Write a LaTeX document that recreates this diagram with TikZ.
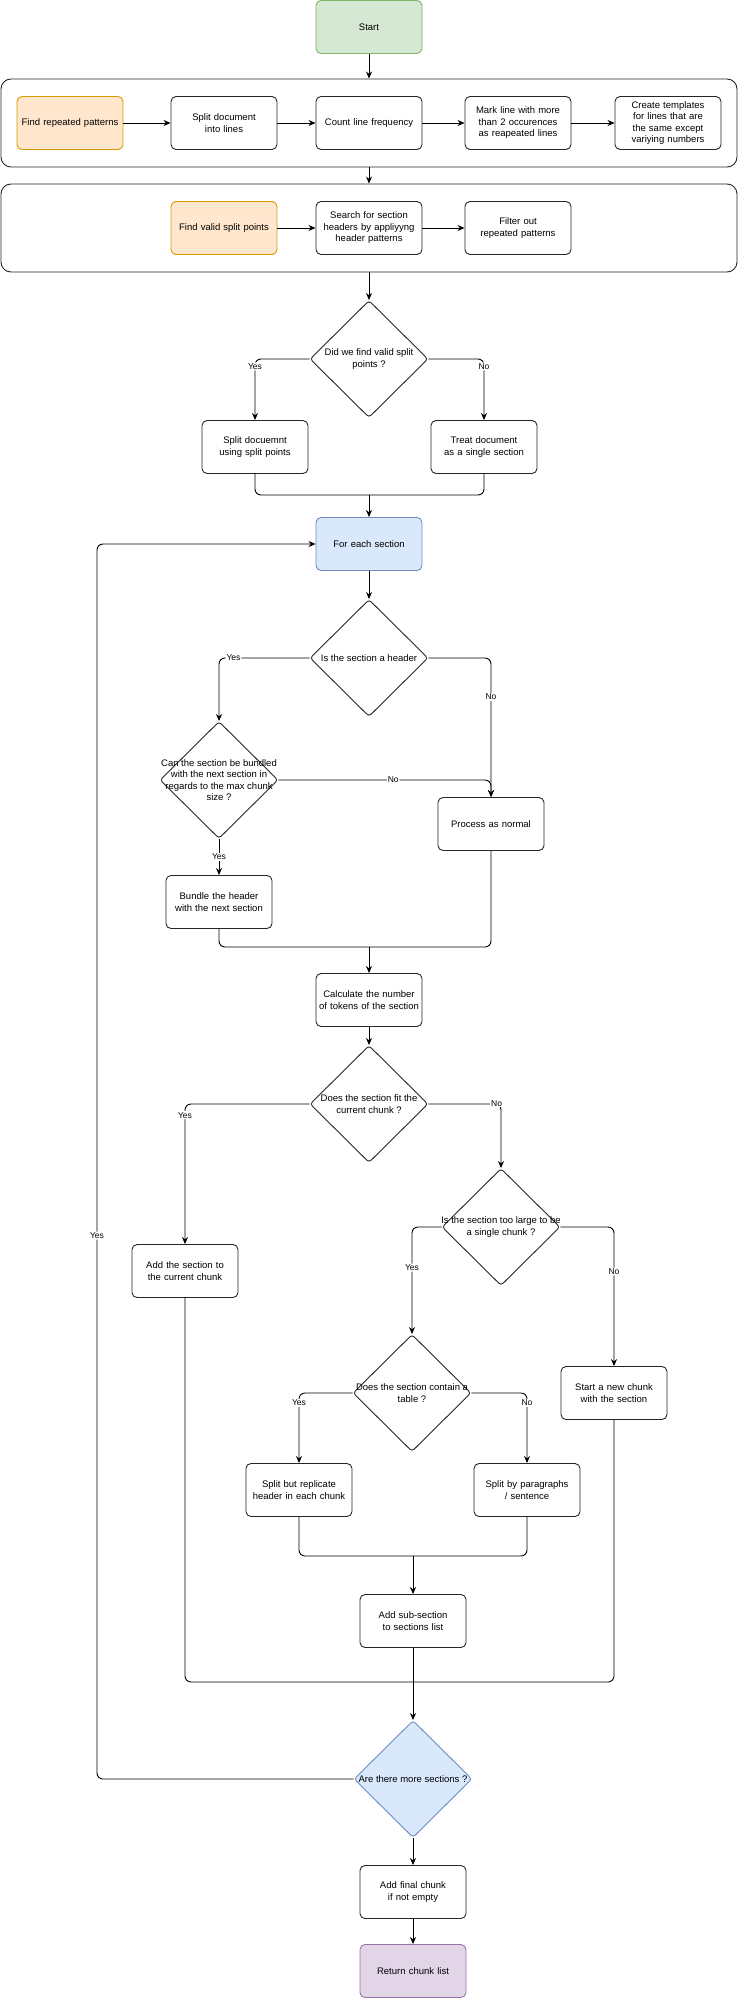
\documentclass[tikz,border=0pt]{standalone}
\usepackage{fontspec}
\setmainfont{Liberation Sans}
\usetikzlibrary{shapes.geometric,arrows.meta}
\definecolor{gF}{HTML}{D5E8D4}\definecolor{gS}{HTML}{82B366}
\definecolor{oF}{HTML}{FFE6CC}\definecolor{oS}{HTML}{D79B00}
\definecolor{bF}{HTML}{DAE8FC}\definecolor{bS}{HTML}{6C8EBF}
\definecolor{pF}{HTML}{E1D5E7}\definecolor{pS}{HTML}{9673A6}
\hyphenpenalty=10000 \exhyphenpenalty=10000
\begin{document}
\begin{tikzpicture}[x=1pt,y=-1pt,line width=0.9pt,
 font=\fontsize{9.5}{11.5}\selectfont,
 box/.style={draw=black!85,rounded corners=5pt,minimum width=106pt,minimum height=53pt,text width=102pt,align=center,inner sep=1pt},
 wide/.style={draw=black!85,rounded corners=10pt},
 dec/.style={draw=black!85,shape=diamond,rounded corners=3pt,minimum width=118pt,minimum height=117pt,inner sep=0pt},
 arr/.style={-{Stealth[length=7pt,width=6pt]},rounded corners=6pt},
 ln/.style={rounded corners=6pt},
 lab/.style={fill=white,inner sep=1pt,font=\fontsize{8.5}{10}\selectfont}]
\useasboundingbox (0,0) rectangle (738,1999);
% top
\node[box,fill=gF,draw=gS] (start) at (369,27) {Start};
\node[wide,minimum width=736pt,minimum height=88pt] (c1) at (369,123) {};
\node[box,fill=oF,draw=oS] (f1) at (70,123) {Find repeated patterns};
\node[box] (f2) at (224,123) {Split document into lines};
\node[box] (f3) at (369,123) {Count line frequency};
\node[box] (f4) at (518,123) {Mark line with more than 2 occurences as reapeated lines};
\node[box] (f5) at (668,123) {Create templates for lines that are the same except variying numbers};
\node[wide,minimum width=736pt,minimum height=88pt] (c2) at (369,228) {};
\node[box,fill=oF,draw=oS] (g1) at (224,228) {Find valid split points};
\node[box] (g2) at (369,228) {Search for section headers by appliyyng header patterns};
\node[box] (g3) at (518,228) {Filter out repeated patterns};
\draw[arr] (start) -- (c1);
\draw[arr] (c1) -- (c2);
\draw[arr] (f1) -- (f2); \draw[arr] (f2) -- (f3); \draw[arr] (f3) -- (f4); \draw[arr] (f4) -- (f5);
\draw[arr] (g1) -- (g2); \draw[arr] (g2) -- (g3);
% split decision
\node[dec,label={center:\parbox{100pt}{\centering Did we find valid split points ?}}] (d1) at (369,359) {};
\draw[arr] (c2) -- (d1);
\node[box] (s1) at (255,447) {Split docuemnt using split points};
\node[box] (s2) at (484,447) {Treat document as a single section};
\draw[arr] (d1.west) -| node[lab,pos=0.56]{Yes} (s1.north);
\draw[arr] (d1.east) -| node[lab,pos=0.56]{No} (s2.north);
\coordinate (m1) at (369,495);
\node[box,fill=bF,draw=bS] (fe) at (369,544) {For each section};
\draw[ln] (s1.south) |- (m1); \draw[ln] (s2.south) |- (m1);
\draw[arr] (m1) -- (fe);
% header
\node[dec,label={center:Is the section a header}] (d2) at (369,658) {};
\draw[arr] (fe) -- (d2);
\node[dec,label={center:\parbox{124pt}{\centering Can the section be bundled with the next section in regards to the max chunk size ?}}] (d3) at (219,780) {};
\node[box] (pn) at (491,824) {Process as normal};
\node[box] (bh) at (219,902) {Bundle the header with the next section};
\draw[arr] (d2.west) -| node[lab,pos=0.42]{Yes} (d3.north);
\draw[arr] (d2.east) -| node[lab,pos=0.64]{No} (pn.north);
\draw[arr] (d3.east) -| node[lab,pos=0.27]{No} (pn.north);
\draw[arr] (d3.south) -- node[lab]{Yes} (bh.north);
\coordinate (m2) at (369,947);
\node[box] (calc) at (369,1000) {Calculate the number of tokens of the section};
\draw[ln] (bh.south) |- (m2); \draw[ln] (pn.south) |- (m2);
\draw[arr] (m2) -- (calc);
% fit
\node[dec,label={center:\parbox{124pt}{\centering Does the section fit the current chunk ?}}] (d4) at (369,1104) {};
\draw[arr] (calc) -- (d4);
\node[box] (add) at (185,1271) {Add the section to the current chunk};
\node[dec,label={center:\parbox{126pt}{\centering Is the section too large to be a single chunk ?}}] (d5) at (501,1227) {};
\draw[arr] (d4.west) -| node[lab,pos=0.54]{Yes} (add.north);
\draw[arr] (d4.east) -| node[lab,pos=0.47]{No} (d5.north);
\node[dec,label={center:\parbox{126pt}{\centering Does the section contain a table ?}}] (d6) at (412,1393) {};
\node[box] (snew) at (614,1393) {Start a new chunk with the section};
\draw[arr] (d5.west) -| node[lab,pos=0.69]{Yes} (d6.north);
\draw[arr] (d5.east) -| node[lab,pos=0.66]{No} (snew.north);
\node[box] (sr) at (299,1490) {Split but replicate header in each chunk};
\node[box] (sp) at (527,1490) {Split by paragraphs / sentence};
\draw[arr] (d6.west) -| node[lab,pos=0.57]{Yes} (sr.north);
\draw[arr] (d6.east) -| node[lab,pos=0.57]{No} (sp.north);
\coordinate (m3) at (413,1556);
\node[box] (asub) at (413,1621) {Add sub-section to sections list};
\draw[ln] (sr.south) |- (m3); \draw[ln] (sp.south) |- (m3);
\draw[arr] (m3) -- (asub);
\coordinate (m4) at (413,1682);
\draw[ln] (add.south) |- (m4); \draw[ln] (snew.south) |- (m4);
\draw (asub.south) -- (m4);
\node[dec,fill=bF,draw=bS,label={center:Are there more sections ?}] (d7) at (413,1779) {};
\draw[arr] (m4) -- (d7);
\draw[arr] (d7.west) -| node[lab,pos=0.72]{Yes} (97,544) -- (fe.west);
\node[box] (fin) at (413,1892) {Add final chunk if not empty};
\node[box,fill=pF,draw=pS] (ret) at (413,1971) {Return chunk list};
\draw[arr] (d7) -- (fin);
\draw[arr] (fin) -- (ret);
\end{tikzpicture}
\end{document}
